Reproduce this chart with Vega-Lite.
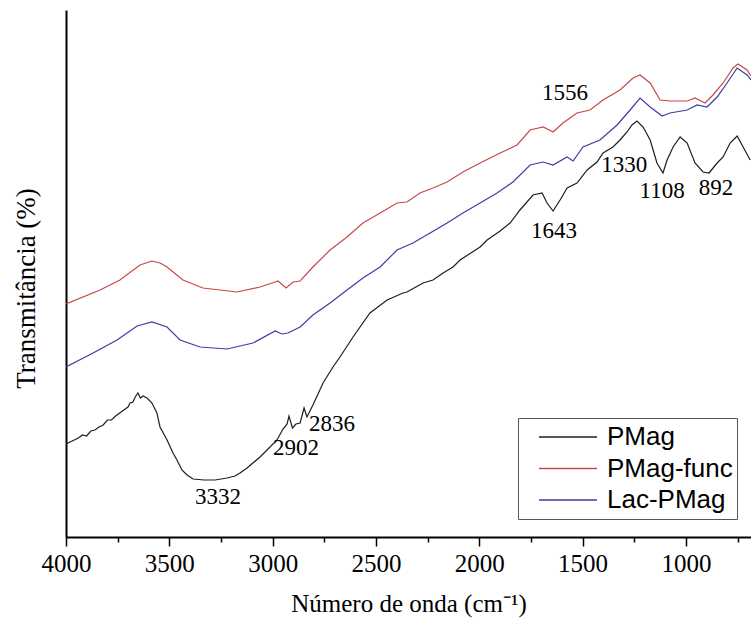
{
  "$schema": "https://vega.github.io/schema/vega-lite/v6.json",
  "width": 685,
  "height": 527,
  "autosize": {"type": "none"},
  "padding": {"left": 66, "top": 10, "right": 0, "bottom": 91},
  "background": "white",
  "config": {"view": {"stroke": null}},
  "datasets": {
    "spectra": [
      {"s":"PMag","wn":4000,"t":93},{"s":"PMag","wn":3960,"t":97},{"s":"PMag","wn":3940,"t":99},{"s":"PMag","wn":3920,"t":102},{"s":"PMag","wn":3900,"t":101},{"s":"PMag","wn":3880,"t":106},{"s":"PMag","wn":3860,"t":107},{"s":"PMag","wn":3840,"t":110},{"s":"PMag","wn":3820,"t":112},{"s":"PMag","wn":3800,"t":117},{"s":"PMag","wn":3780,"t":117},{"s":"PMag","wn":3760,"t":121},{"s":"PMag","wn":3740,"t":124},{"s":"PMag","wn":3720,"t":127},{"s":"PMag","wn":3700,"t":130},{"s":"PMag","wn":3690,"t":134},{"s":"PMag","wn":3676,"t":135},{"s":"PMag","wn":3665,"t":140},{"s":"PMag","wn":3652,"t":144},{"s":"PMag","wn":3640,"t":139},{"s":"PMag","wn":3627,"t":141},{"s":"PMag","wn":3608,"t":139},{"s":"PMag","wn":3584,"t":134},{"s":"PMag","wn":3560,"t":124},{"s":"PMag","wn":3545,"t":110},{"s":"PMag","wn":3511,"t":97},{"s":"PMag","wn":3482,"t":84},{"s":"PMag","wn":3463,"t":77},{"s":"PMag","wn":3439,"t":67},{"s":"PMag","wn":3414,"t":62},{"s":"PMag","wn":3385,"t":58},{"s":"PMag","wn":3332,"t":57},{"s":"PMag","wn":3279,"t":57},{"s":"PMag","wn":3221,"t":59},{"s":"PMag","wn":3182,"t":61},{"s":"PMag","wn":3158,"t":64},{"s":"PMag","wn":3124,"t":69},{"s":"PMag","wn":3061,"t":80},{"s":"PMag","wn":3027,"t":87},{"s":"PMag","wn":2979,"t":97},{"s":"PMag","wn":2950,"t":108},{"s":"PMag","wn":2930,"t":113},{"s":"PMag","wn":2921,"t":121},{"s":"PMag","wn":2904,"t":109},{"s":"PMag","wn":2887,"t":113},{"s":"PMag","wn":2867,"t":114},{"s":"PMag","wn":2848,"t":129},{"s":"PMag","wn":2834,"t":120},{"s":"PMag","wn":2805,"t":132},{"s":"PMag","wn":2756,"t":154},{"s":"PMag","wn":2708,"t":170},{"s":"PMag","wn":2674,"t":180},{"s":"PMag","wn":2611,"t":200},{"s":"PMag","wn":2529,"t":224},{"s":"PMag","wn":2446,"t":237},{"s":"PMag","wn":2369,"t":244},{"s":"PMag","wn":2350,"t":245},{"s":"PMag","wn":2272,"t":254},{"s":"PMag","wn":2224,"t":257},{"s":"PMag","wn":2175,"t":264},{"s":"PMag","wn":2127,"t":270},{"s":"PMag","wn":2093,"t":277},{"s":"PMag","wn":1996,"t":290},{"s":"PMag","wn":1962,"t":297},{"s":"PMag","wn":1899,"t":306},{"s":"PMag","wn":1851,"t":314},{"s":"PMag","wn":1803,"t":327},{"s":"PMag","wn":1740,"t":342},{"s":"PMag","wn":1696,"t":344},{"s":"PMag","wn":1672,"t":334},{"s":"PMag","wn":1643,"t":326},{"s":"PMag","wn":1609,"t":337},{"s":"PMag","wn":1575,"t":349},{"s":"PMag","wn":1527,"t":354},{"s":"PMag","wn":1478,"t":367},{"s":"PMag","wn":1430,"t":375},{"s":"PMag","wn":1401,"t":384},{"s":"PMag","wn":1353,"t":390},{"s":"PMag","wn":1319,"t":397},{"s":"PMag","wn":1285,"t":405},{"s":"PMag","wn":1261,"t":412},{"s":"PMag","wn":1237,"t":416},{"s":"PMag","wn":1207,"t":410},{"s":"PMag","wn":1173,"t":397},{"s":"PMag","wn":1140,"t":374},{"s":"PMag","wn":1111,"t":364},{"s":"PMag","wn":1091,"t":377},{"s":"PMag","wn":1062,"t":390},{"s":"PMag","wn":1028,"t":400},{"s":"PMag","wn":994,"t":394},{"s":"PMag","wn":956,"t":374},{"s":"PMag","wn":917,"t":365},{"s":"PMag","wn":888,"t":364},{"s":"PMag","wn":849,"t":374},{"s":"PMag","wn":820,"t":380},{"s":"PMag","wn":786,"t":394},{"s":"PMag","wn":752,"t":401},{"s":"PMag","wn":723,"t":390},{"s":"PMag","wn":689,"t":377},
      {"s":"PMag-func","wn":4000,"t":233},{"s":"PMag-func","wn":3835,"t":247},{"s":"PMag-func","wn":3739,"t":257},{"s":"PMag-func","wn":3642,"t":272},{"s":"PMag-func","wn":3584,"t":276},{"s":"PMag-func","wn":3545,"t":274},{"s":"PMag-func","wn":3511,"t":270},{"s":"PMag-func","wn":3434,"t":257},{"s":"PMag-func","wn":3337,"t":249},{"s":"PMag-func","wn":3255,"t":247},{"s":"PMag-func","wn":3172,"t":245},{"s":"PMag-func","wn":3061,"t":250},{"s":"PMag-func","wn":2988,"t":255},{"s":"PMag-func","wn":2974,"t":256},{"s":"PMag-func","wn":2935,"t":249},{"s":"PMag-func","wn":2901,"t":255},{"s":"PMag-func","wn":2867,"t":256},{"s":"PMag-func","wn":2805,"t":270},{"s":"PMag-func","wn":2722,"t":287},{"s":"PMag-func","wn":2640,"t":300},{"s":"PMag-func","wn":2563,"t":314},{"s":"PMag-func","wn":2480,"t":324},{"s":"PMag-func","wn":2398,"t":334},{"s":"PMag-func","wn":2350,"t":335},{"s":"PMag-func","wn":2287,"t":344},{"s":"PMag-func","wn":2224,"t":349},{"s":"PMag-func","wn":2156,"t":355},{"s":"PMag-func","wn":2079,"t":365},{"s":"PMag-func","wn":1996,"t":374},{"s":"PMag-func","wn":1899,"t":384},{"s":"PMag-func","wn":1817,"t":392},{"s":"PMag-func","wn":1754,"t":407},{"s":"PMag-func","wn":1691,"t":410},{"s":"PMag-func","wn":1643,"t":405},{"s":"PMag-func","wn":1595,"t":414},{"s":"PMag-func","wn":1527,"t":424},{"s":"PMag-func","wn":1464,"t":427},{"s":"PMag-func","wn":1401,"t":437},{"s":"PMag-func","wn":1319,"t":447},{"s":"PMag-func","wn":1256,"t":459},{"s":"PMag-func","wn":1222,"t":462},{"s":"PMag-func","wn":1173,"t":454},{"s":"PMag-func","wn":1125,"t":437},{"s":"PMag-func","wn":1077,"t":436},{"s":"PMag-func","wn":994,"t":436},{"s":"PMag-func","wn":956,"t":439},{"s":"PMag-func","wn":907,"t":434},{"s":"PMag-func","wn":869,"t":442},{"s":"PMag-func","wn":820,"t":454},{"s":"PMag-func","wn":772,"t":469},{"s":"PMag-func","wn":748,"t":473},{"s":"PMag-func","wn":704,"t":467},{"s":"PMag-func","wn":685,"t":461},
      {"s":"Lac-PMag","wn":4000,"t":170},{"s":"Lac-PMag","wn":3869,"t":184},{"s":"Lac-PMag","wn":3753,"t":197},{"s":"Lac-PMag","wn":3656,"t":211},{"s":"Lac-PMag","wn":3584,"t":215},{"s":"Lac-PMag","wn":3511,"t":210},{"s":"Lac-PMag","wn":3448,"t":197},{"s":"Lac-PMag","wn":3351,"t":190},{"s":"Lac-PMag","wn":3221,"t":188},{"s":"Lac-PMag","wn":3095,"t":194},{"s":"Lac-PMag","wn":2988,"t":206},{"s":"Lac-PMag","wn":2955,"t":203},{"s":"Lac-PMag","wn":2926,"t":204},{"s":"Lac-PMag","wn":2867,"t":210},{"s":"Lac-PMag","wn":2805,"t":222},{"s":"Lac-PMag","wn":2722,"t":234},{"s":"Lac-PMag","wn":2640,"t":247},{"s":"Lac-PMag","wn":2563,"t":259},{"s":"Lac-PMag","wn":2480,"t":270},{"s":"Lac-PMag","wn":2398,"t":287},{"s":"Lac-PMag","wn":2321,"t":294},{"s":"Lac-PMag","wn":2238,"t":304},{"s":"Lac-PMag","wn":2156,"t":314},{"s":"Lac-PMag","wn":2079,"t":324},{"s":"Lac-PMag","wn":1996,"t":334},{"s":"Lac-PMag","wn":1914,"t":344},{"s":"Lac-PMag","wn":1837,"t":355},{"s":"Lac-PMag","wn":1754,"t":372},{"s":"Lac-PMag","wn":1691,"t":375},{"s":"Lac-PMag","wn":1643,"t":372},{"s":"Lac-PMag","wn":1575,"t":380},{"s":"Lac-PMag","wn":1546,"t":376},{"s":"Lac-PMag","wn":1498,"t":390},{"s":"Lac-PMag","wn":1416,"t":397},{"s":"Lac-PMag","wn":1333,"t":412},{"s":"Lac-PMag","wn":1270,"t":427},{"s":"Lac-PMag","wn":1222,"t":439},{"s":"Lac-PMag","wn":1173,"t":430},{"s":"Lac-PMag","wn":1115,"t":421},{"s":"Lac-PMag","wn":1077,"t":424},{"s":"Lac-PMag","wn":994,"t":427},{"s":"Lac-PMag","wn":946,"t":432},{"s":"Lac-PMag","wn":898,"t":430},{"s":"Lac-PMag","wn":849,"t":440},{"s":"Lac-PMag","wn":801,"t":454},{"s":"Lac-PMag","wn":752,"t":469},{"s":"Lac-PMag","wn":704,"t":462},{"s":"Lac-PMag","wn":685,"t":457}
    ],
    "peaks": [
      {"label":"1556","wn":1585,"t":444},
      {"label":"1330","wn":1299,"t":372},
      {"label":"1108","wn":1115,"t":346},
      {"label":"892","wn":854,"t":349},
      {"label":"1643","wn":1638,"t":306},
      {"label":"3332","wn":3264,"t":40},
      {"label":"2902","wn":2887,"t":89},
      {"label":"2836","wn":2713,"t":113}
    ]
  },
  "layer": [
    {
      "data": {"name": "spectra"},
      "mark": {"type": "line", "strokeWidth": 1.2, "clip": true},
      "encoding": {
        "x": {
          "field": "wn", "type": "quantitative",
          "scale": {"domain": [685, 4000], "reverse": true, "nice": false, "zero": false},
          "axis": {
            "title": "Número de onda (cm⁻¹)",
            "values": [4000,3750,3500,3250,3000,2750,2500,2250,2000,1750,1500,1250,1000,750],
            "labelExpr": "datum.value % 500 === 0 ? datum.label : ''",
            "format": "d",
            "grid": false,
            "domainColor": "black", "domainWidth": 2,
            "tickColor": "black", "tickWidth": 1.5,
            "tickSize": {"condition": {"test": "datum.value % 500 === 0", "value": 9}, "value": 5},
            "labelFont": "Liberation Serif", "labelFontSize": 25, "labelColor": "black", "labelPadding": 5,
            "labelFlush": false, "labelOverlap": false,
            "titleFont": "Liberation Serif", "titleFontSize": 25, "titleFontWeight": "normal", "titleColor": "black", "titlePadding": 15
          }
        },
        "y": {
          "field": "t", "type": "quantitative",
          "scale": {"domain": [0, 527], "nice": false, "zero": false},
          "axis": {
            "title": "Transmitância (%)",
            "ticks": false, "labels": false, "grid": false,
            "domainColor": "black", "domainWidth": 2,
            "titleFont": "Liberation Serif", "titleFontSize": 27, "titleFontWeight": "normal", "titleColor": "black", "titlePadding": 26, "titleY": 278
          }
        },
        "color": {
          "field": "s", "type": "nominal",
          "scale": {"domain": ["PMag", "PMag-func", "Lac-PMag"], "range": ["#1e1e1e", "#c84848", "#3c3ca8"]},
          "legend": {
            "title": null,
            "orient": "none", "legendX": 452, "legendY": 408,
            "symbolType": "stroke", "symbolSize": 3364, "symbolStrokeWidth": 1.3,
            "clipHeight": 30,
            "symbolOffset": 16,
            "labelFont": "Liberation Sans", "labelFontSize": 26, "labelColor": "black", "labelOffset": 9,
            "strokeColor": "#555555", "fillColor": "white", "padding": 4,
            "rowPadding": 1.5
          }
        }
      }
    },
    {
      "data": {"name": "peaks"},
      "mark": {"type": "text", "font": "Liberation Serif", "fontSize": 23, "color": "black", "align": "center", "baseline": "middle"},
      "encoding": {
        "x": {"field": "wn", "type": "quantitative"},
        "y": {"field": "t", "type": "quantitative"},
        "text": {"field": "label"}
      }
    },
    {
      "mark": {"type": "rule", "color": "black", "strokeWidth": 2},
      "encoding": {"y": {"datum": 527}}
    }
  ]
}
